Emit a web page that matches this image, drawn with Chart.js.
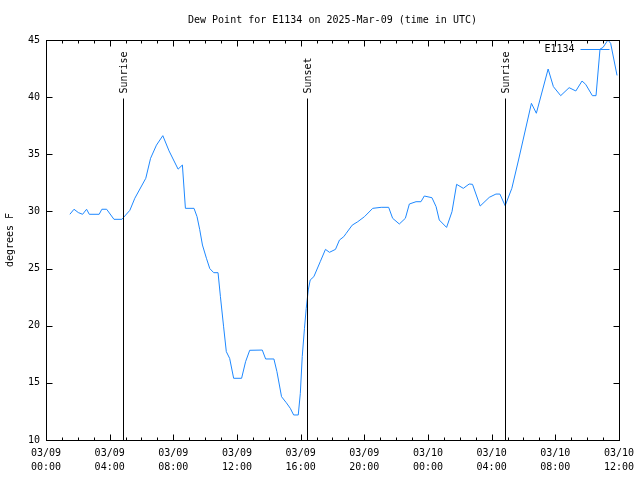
<!DOCTYPE html>
<html>
<head>
<meta charset="utf-8">
<script src="https://cdn.jsdelivr.net/npm/chart.js@4"></script>
<style>
  html, body { margin: 0; padding: 0; background: #fff; }
</style>
</head>
<body>
<canvas id="chart" width="640" height="480"></canvas>
<script>
// hours since 03/09 00:00 UTC
const hours = [
  1.50, 1.76, 2.03, 2.30, 2.55, 2.72, 3.34, 3.51, 3.81, 4.27, 4.77, 5.27, 5.58,
  6.27, 6.57, 6.94, 7.34, 7.73, 8.30, 8.57, 8.76, 9.30, 9.49, 9.66, 9.83, 10.08,
  10.29, 10.54, 10.81, 10.96, 11.16, 11.33, 11.54, 11.79, 12.29, 12.54, 12.80,
  13.59, 13.80, 14.32, 14.51, 14.80, 15.10, 15.35, 15.56, 15.85, 15.98, 16.10,
  16.24, 16.35, 16.48, 16.60, 16.83, 17.23, 17.56, 17.81, 18.19, 18.44, 18.71,
  18.86, 19.24, 19.59, 20.01, 20.53, 21.06, 21.53, 21.78, 22.20, 22.58, 22.83,
  23.25, 23.56, 23.77, 24.25, 24.51, 24.71, 25.17, 25.51, 25.80, 26.22, 26.59,
  26.80, 27.28, 27.85, 28.27, 28.52, 28.85, 29.27, 29.69, 30.50, 30.81, 31.55,
  31.88, 32.34, 32.87, 33.29, 33.68, 33.91, 34.33, 34.56, 34.81, 35.00, 35.31,
  35.48, 35.88
];
const dewPoint = [
  29.75, 30.19, 29.90, 29.75, 30.19, 29.75, 29.75, 30.19, 30.19, 29.31, 29.31, 30.10, 31.15,
  32.90, 34.65, 35.80, 36.63, 35.30, 33.70, 34.06, 30.27, 30.27, 29.54, 28.40, 27.06, 25.90,
  25.00, 24.64, 24.64, 22.54, 19.90, 17.73, 17.14, 15.40, 15.40, 16.85, 17.85,
  17.87, 17.09, 17.09, 15.98, 13.79, 13.26, 12.77, 12.19, 12.19, 14.08, 17.30,
  19.77, 21.50, 23.13, 24.00, 24.29, 25.60, 26.68, 26.42, 26.68, 27.50, 27.79,
  28.08, 28.80, 29.10, 29.54, 30.27, 30.36, 30.36, 29.40, 28.90, 29.40, 30.65,
  30.85, 30.85, 31.35, 31.20, 30.42, 29.25, 28.60, 29.98, 32.37, 32.02, 32.40,
  32.37, 30.47, 31.23, 31.52, 31.52, 30.50, 32.02, 34.50, 39.46, 38.59, 42.46,
  40.92, 40.13, 40.83, 40.54, 41.41, 41.12, 40.13, 40.13, 44.20, 44.35, 45.00,
  44.70, 41.90
];

const eventHours = [4.85, 16.39, 28.87];
const eventNames = ['Sunrise', 'Sunset', 'Sunrise'];

const xTickLabels = [
  ['03/09', '00:00'], ['03/09', '04:00'], ['03/09', '08:00'], ['03/09', '12:00'],
  ['03/09', '16:00'], ['03/09', '20:00'], ['03/10', '00:00'], ['03/10', '04:00'],
  ['03/10', '08:00'], ['03/10', '12:00']
];
const yTicks = [10, 15, 20, 25, 30, 35, 40, 45];

const chartTitle = 'Dew Point for E1134 on 2025-Mar-09 (time in UTC)';

const FONT = '"DejaVu Sans Mono", "Liberation Mono", monospace';
const LINE_COLOR = '#1e88ff';

// gnuplot-like title, frame, inward ticks, sunrise/sunset markers and legend
const gnuplotLook = {
  id: 'gnuplotLook',
  afterDatasetsDraw(chart) {
    const ctx = chart.ctx;
    const a = chart.chartArea;
    const xs = chart.scales.x;
    const ys = chart.scales.y;
    const px = v => Math.round(xs.getPixelForValue(v)) + 0.5;
    const py = v => Math.round(ys.getPixelForValue(v)) + 0.5;
    const L = Math.round(a.left) + 0.5, R = Math.round(a.right) + 0.5;
    const T = Math.round(a.top) + 0.5, B = Math.round(a.bottom) + 0.5;

    ctx.save();
    ctx.strokeStyle = '#000';
    ctx.fillStyle = '#000';
    ctx.lineWidth = 1;
    ctx.font = '10px ' + FONT;

    // title, centred over the plot area
    ctx.textAlign = 'center';
    ctx.textBaseline = 'middle';
    ctx.fillText(chartTitle, (a.left + a.right) / 2, 20);

    // sunrise / sunset lines
    ctx.beginPath();
    eventHours.forEach(h => {
      const x = px(h);
      ctx.moveTo(x, B);
      ctx.lineTo(x, py(39.9));
    });
    ctx.stroke();

    ctx.textAlign = 'left';
    eventHours.forEach((h, i) => {
      ctx.save();
      ctx.translate(px(h) + 1, py(39.9) - 5);
      ctx.rotate(-Math.PI / 2);
      ctx.fillText(eventNames[i], 0, 0);
      ctx.restore();
    });

    // ticks
    ctx.beginPath();
    for (let h = xs.min; h <= xs.max; h += 1) {
      const x = px(h);
      const len = h % 4 === 0 ? 6 : 3;
      ctx.moveTo(x, B); ctx.lineTo(x, B - len);
      ctx.moveTo(x, T); ctx.lineTo(x, T + len);
    }
    yTicks.forEach(v => {
      const y = py(v);
      ctx.moveTo(L, y); ctx.lineTo(L + 6, y);
      ctx.moveTo(R, y); ctx.lineTo(R - 6, y);
    });
    ctx.stroke();

    // frame
    ctx.strokeRect(L, T, R - L, B - T);

    // legend
    const ly = T + 9;
    ctx.textAlign = 'right';
    ctx.fillText(chart.data.datasets[0].label, R - 45, ly);
    ctx.strokeStyle = LINE_COLOR;
    ctx.beginPath();
    ctx.moveTo(R - 39, ly);
    ctx.lineTo(R - 10, ly);
    ctx.stroke();

    ctx.restore();
  }
};

new Chart(document.getElementById('chart'), {
  type: 'line',
  data: {
    datasets: [{
      label: 'E1134',
      data: hours.map((h, i) => ({ x: h, y: dewPoint[i] })),
      borderColor: LINE_COLOR,
      borderWidth: 1,
      pointRadius: 0,
      tension: 0,
      fill: false
    }]
  },
  options: {
    responsive: false,
    animation: false,
    devicePixelRatio: 1,
    layout: { padding: { left: 0, right: 20, top: 40, bottom: 0 } },
    plugins: {
      legend: { display: false },
      tooltip: { enabled: false },
      title: { display: false }
    },
    scales: {
      x: {
        type: 'linear',
        min: 0,
        max: 36,
        grid: { display: false, drawTicks: false },
        border: { display: false },
        ticks: {
          stepSize: 4,
          autoSkip: false,
          maxRotation: 0,
          padding: 6,
          color: '#000',
          font: { family: FONT, size: 10, lineHeight: 1.4 },
          callback: (v, i) => xTickLabels[i]
        },
        afterFit: s => { s.height = 40; }
      },
      y: {
        min: 10,
        max: 45,
        grid: { display: false, drawTicks: false },
        border: { display: false },
        title: {
          display: true,
          text: 'degrees F',
          color: '#000',
          font: { family: FONT, size: 10, lineHeight: 1.2 },
          padding: { top: 4, bottom: 0 }
        },
        ticks: {
          stepSize: 5,
          padding: 6,
          color: '#000',
          font: { family: FONT, size: 10 }
        },
        afterFit: s => { s.width = 46; }
      }
    }
  },
  plugins: [gnuplotLook]
});
</script>
</body>
</html>
